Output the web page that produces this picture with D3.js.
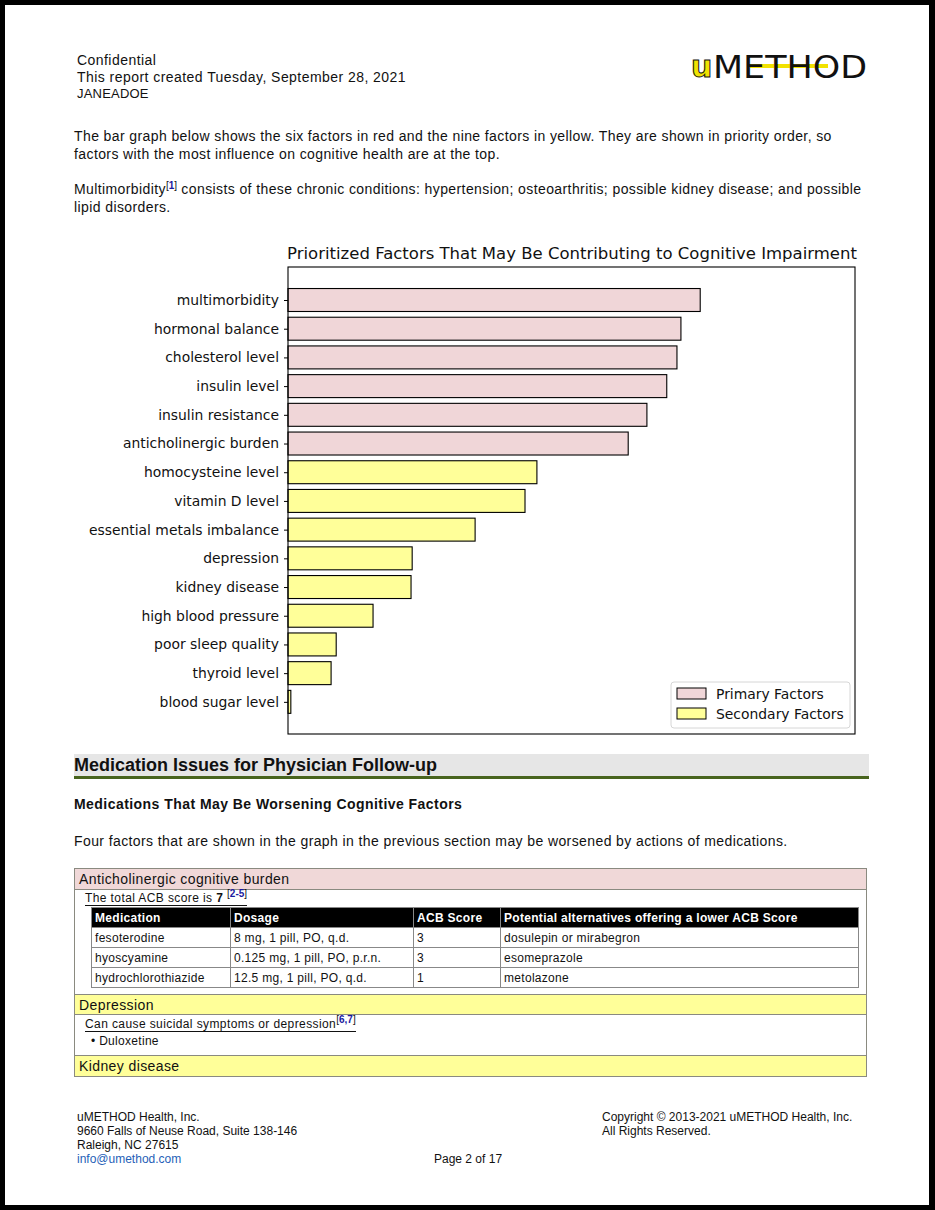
<!DOCTYPE html>
<html>
<head>
<meta charset="UTF-8">
<style>
  html, body { margin: 0; padding: 0; }
  body { width: 935px; height: 1210px; position: relative; background: #fff; overflow: hidden;
         font-family: "Liberation Sans", Arial, sans-serif; color: #111; }
  .frame { position: absolute; left: 0; top: 0; width: 935px; height: 1210px; box-sizing: border-box;
           border-style: solid; border-color: #000; border-width: 5px 6px 5px 5px; }
  .abs { position: absolute; white-space: nowrap; }
  .hdr { font-size: 14px; line-height: 16.5px; letter-spacing: 0.45px; }
  .para { font-size: 14px; line-height: 18px; letter-spacing: 0.4px; }
  sup.ref { font-size: 10px; font-weight: bold; color: #1a1aa0; vertical-align: 5px; line-height: 0; letter-spacing: 0; }
  sup.ref .br { color: #111; font-weight: normal; }
  .section { left: 74px; top: 754px; width: 795px; height: 22px; background: #e6e6e6;
             border-bottom: 3px solid #48641e; }
  .section span { position: absolute; left: 0; top: 1px; font-size: 18px; font-weight: bold; }
  .box { left: 74px; top: 868px; width: 793px; height: 209px; border: 1px solid #8a8a80; box-sizing: border-box; }
  .band { position: absolute; left: 0; width: 791px; height: 21px; font-size: 14px; line-height: 21px;
          padding-left: 4px; box-sizing: border-box; border-bottom: 1px solid #8a8a80; letter-spacing: 0.4px; }
  .pink { background: #f0d8d8; }
  .yel { background: #ffff99; border-top: 1px solid #8a8a80; }
  table.meds { position: absolute; left: 16px; top: 38px; width: 768px; border-collapse: collapse; font-size: 12px; letter-spacing: 0.3px; }
  table.meds th { background: #000; color: #fff; text-align: left; font-weight: bold; padding: 0 3px; height: 19px; border: 1px solid #888; }
  table.meds td { padding: 0 3px; height: 19px; border: 1px solid #888; }
  .ul { border-bottom: 1px solid #111; font-size: 12px; letter-spacing: 0.4px; }
  .foot { font-size: 12px; line-height: 14px; }
</style>
</head>
<body>
<div class="frame"></div>

<div class="abs hdr" style="left:77px; top:52px;">Confidential<br>This report created Tuesday, September 28, 2021<br><span style="font-size:13px; letter-spacing:0.2px">JANEADOE</span></div>

<svg class="abs" style="left:686px; top:46px;" width="190" height="40" id="logo"></svg>

<div class="abs para" style="left:74px; top:127px;">The bar graph below shows the six factors in red and the nine factors in yellow. They are shown in priority order, so<br>factors with the most influence on cognitive health are at the top.</div>
<div class="abs para" style="left:74px; top:180px;">Multimorbidity<sup class="ref"><span class="br">[</span>1<span class="br">]</span></sup> consists of these chronic conditions: hypertension; osteoarthritis; possible kidney disease; and possible<br>lipid disorders.</div>

<svg id="chart" class="abs" style="left:0; top:0;" width="935" height="760"></svg>

<div class="abs section"><span>Medication Issues for Physician Follow-up</span></div>
<div class="abs" style="left:74px; top:796px; font-size:14px; font-weight:bold; letter-spacing:0.45px;">Medications That May Be Worsening Cognitive Factors</div>
<div class="abs para" style="left:74px; top:832px;">Four factors that are shown in the graph in the previous section may be worsened by actions of medications.</div>

<div class="abs box">
  <div class="band pink" style="top:0;">Anticholinergic cognitive burden</div>
  <div class="abs ul" style="left:10px; top:22px;">The total ACB score is <b>7</b> <sup class="ref"><span class="br">[</span>2-5<span class="br">]</span></sup></div>
  <table class="meds" id="meds"></table>
  <div class="band yel" style="top:125px;">Depression</div>
  <div class="abs ul" style="left:10px; top:148px;">Can cause suicidal symptoms or depression<sup class="ref"><span class="br">[</span>6,7<span class="br">]</span></sup></div>
  <div class="abs" style="left:16px; top:165px; font-size:12px; letter-spacing:0.3px;">&bull; Duloxetine</div>
  <div class="band yel" style="top:186px; border-bottom:none;">Kidney disease</div>
</div>

<div class="abs foot" style="left:77px; top:1110px;">uMETHOD Health, Inc.<br>9660 Falls of Neuse Road, Suite 138-146<br>Raleigh, NC 27615<br><span style="color:#1f5fb8">info@umethod.com</span></div>
<div class="abs foot" style="left:434px; top:1152px;">Page 2 of 17</div>
<div class="abs foot" style="left:602px; top:1110px;">Copyright &copy; 2013-2021 uMETHOD Health, Inc.<br>All Rights Reserved.</div>

<script src="https://d3js.org/d3.v7.min.js"></script>
<script>
// chart data
const factors = ["multimorbidity", "hormonal balance", "cholesterol level", "insulin level",
  "insulin resistance", "anticholinergic burden", "homocysteine level", "vitamin D level",
  "essential metals imbalance", "depression", "kidney disease", "high blood pressure",
  "poor sleep quality", "thyroid level", "blood sugar level"];
const scores = [72.7, 69.3, 68.6, 66.8, 63.3, 60.0, 43.9, 41.8, 33.0, 21.9, 21.7, 15.0, 8.5, 7.6, 0.5];
const factorGroup = ["Primary Factors", "Primary Factors", "Primary Factors", "Primary Factors",
  "Primary Factors", "Primary Factors", "Secondary Factors", "Secondary Factors", "Secondary Factors",
  "Secondary Factors", "Secondary Factors", "Secondary Factors", "Secondary Factors",
  "Secondary Factors", "Secondary Factors"];
const legendLabels = ["Primary Factors", "Secondary Factors"];

// table data
const medHeaders = ["Medication", "Dosage", "ACB Score", "Potential alternatives offering a lower ACB Score"];
const medications = ["fesoterodine", "hyoscyamine", "hydrochlorothiazide"];
const dosages = ["8 mg, 1 pill, PO, q.d.", "0.125 mg, 1 pill, PO, p.r.n.", "12.5 mg, 1 pill, PO, q.d."];
const acbScores = [3, 3, 1];
const alternatives = ["dosulepin or mirabegron", "esomeprazole", "metolazone"];

const color = d3.scaleOrdinal().domain(legendLabels).range(["#f0d6d8", "#ffff99"]);

let svg = d3.select("#chart");
const plotL = 288, plotR = 855, plotT = 267, plotB = 734;

let x = d3.scaleLinear().domain([0, 100]).range([plotL, plotR]);
let y = d3.scaleLinear().domain([-1.15, factors.length + 0.12]).range([plotT, plotB]);
const barH = (y(1) - y(0)) * 0.8;

svg.append("text")
    .attr("x", 572).attr("y", 259)
    .attr("text-anchor", "middle")
    .style("font-family", "DejaVu Sans").style("font-size", "16.5px").attr("fill", "#111")
    .text("Prioritized Factors That May Be Contributing to Cognitive Impairment");

svg.append("g")
    .selectAll("rect")
    .data(factors)
    .enter()
    .append("rect")
    .attr("x", x(0))
    .attr("y", (d, i) => y(i) - barH / 2)
    .attr("width", (d, i) => x(scores[i]) - x(0))
    .attr("height", barH)
    .attr("fill", (d, i) => color(factorGroup[i]))
    .attr("stroke", "#000").attr("stroke-width", 1.1);

let yAxis = d3.axisLeft(y)
    .tickValues(d3.range(factors.length))
    .tickFormat(i => factors[i])
    .tickSize(4).tickPadding(5);

let ga = svg.append("g").attr("transform", `translate(${plotL},0)`).call(yAxis);
ga.select(".domain").remove();
ga.selectAll("text").style("font-family", "DejaVu Sans").style("font-size", "13.9px").attr("fill", "#111");
ga.selectAll("line").attr("stroke", "#000");

svg.append("rect")
    .attr("x", plotL).attr("y", plotT).attr("width", plotR - plotL).attr("height", plotB - plotT)
    .attr("fill", "none").attr("stroke", "#000").attr("stroke-width", 1.1);

// legend
let lg = svg.append("g").attr("transform", "translate(671,682)");
lg.append("rect").attr("width", 179).attr("height", 46).attr("rx", 3)
    .attr("fill", "#fff").attr("fill-opacity", 0.8).attr("stroke", "#d6d6d6");
lg.selectAll("g.item").data(legendLabels).enter().append("g").attr("class", "item")
    .attr("transform", (d, i) => `translate(6,${6 + i * 20})`)
    .each(function (d) {
        let g = d3.select(this);
        g.append("rect").attr("width", 29).attr("height", 11).attr("fill", color(d))
            .attr("stroke", "#000").attr("stroke-width", 1);
        g.append("text").attr("x", 39).attr("y", 10.5)
            .style("font-family", "DejaVu Sans").style("font-size", "13.9px").attr("fill", "#111").text(d);
    });

// logo
let logo = d3.select("#logo");
logo.append("rect").attr("x", 64).attr("y", 18).attr("width", 78).attr("height", 4).attr("fill", "#f2e200");
logo.append("text").attr("x", 5).attr("y", 31).text("u")
    .style("font-family", "DejaVu Sans").style("font-size", "30px").style("font-weight", "bold")
    .attr("fill", "#f2e200").attr("stroke", "#111").attr("stroke-width", 1);
logo.append("text").attr("x", 27).attr("y", 32).text("METHOD")
    .attr("textLength", 154).attr("lengthAdjust", "spacingAndGlyphs")
    .style("font-family", "DejaVu Sans").style("font-size", "32px").attr("fill", "#111");
</script>
<script>
// medication table
let table = d3.select("#meds");
table.append("tr").selectAll("th").data(medHeaders).enter().append("th")
    .style("width", (d, i) => ["132px", "176px", "80px", "auto"][i]).text(d => d);
let rows = table.selectAll("tr.r").data(medications).enter().append("tr").attr("class", "r");
rows.selectAll("td")
    .data((d, i) => [medications[i], dosages[i], acbScores[i], alternatives[i]])
    .enter().append("td").text(d => d);
</script>
</body>
</html>
